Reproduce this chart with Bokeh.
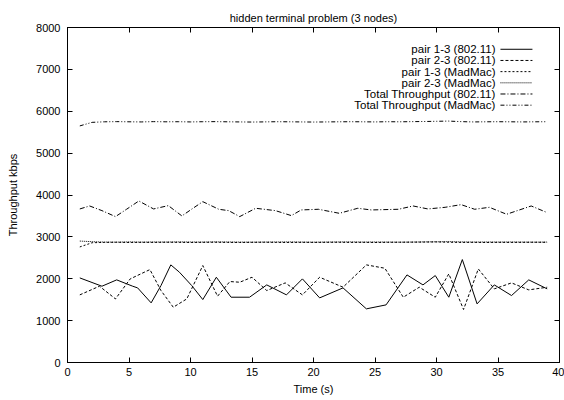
from bokeh.plotting import figure
from bokeh.models import Range1d, LinearAxis, FixedTicker, Title
from bokeh.embed import file_html
from bokeh.resources import INLINE
from bokeh.core.properties import value

FONT = "Liberation Sans"

# ---- data ----
t_pair13_8021 = [1.0, 2.8, 4.0, 5.3, 5.7, 6.8, 7.6, 8.4, 9.1, 10.1, 11.0, 12.1, 13.3,
                 14.8, 16.2, 17.8, 19.1, 20.5, 22.4, 24.3, 25.9, 27.6, 28.9, 29.9,
                 31.0, 32.1, 33.3, 34.7, 36.1, 37.5, 39.0]
pair13_8021 = [2020, 1822, 1973, 1822, 1782, 1424, 1837, 2331, 2156, 1837, 1503, 2036,
               1559, 1559, 1853, 1615, 1997, 1543, 1782, 1281, 1376, 2092, 1853, 2076,
               1559, 2458, 1400, 1853, 1599, 1973, 1758]
t_pair23_8021 = [1.0, 2.6, 3.9, 5.1, 6.7, 7.6, 8.6, 9.7, 11.0, 12.2, 13.2, 14.0, 15.0,
                 16.2, 17.7, 19.1, 20.5, 22.4, 24.3, 25.8, 27.3, 28.6, 29.9, 31.0,
                 32.2, 33.4, 34.7, 36.1, 37.5, 39.0]
pair23_8021 = [1615, 1822, 1519, 1997, 2219, 1718, 1320, 1519, 2315, 1583, 1933, 1917,
               2036, 1718, 1901, 1615, 2036, 1798, 2331, 2251, 1559, 1798, 1559, 2116,
               1265, 2235, 1758, 1901, 1734, 1798]

t_total_8021 = [1, 1.8, 2.8, 3.9, 4.8, 5.8, 7, 8.2, 9.3, 10.2, 11, 12.3, 13.1, 14, 15.3,
                16.9, 18.2, 19, 20.4, 22.1, 23.6, 24.7, 26.9, 28.1, 29.3, 30.7, 32,
                33.1, 34.3, 35.7, 37.7, 39]
total_8021 = [3667, 3738, 3627, 3484, 3659, 3857, 3667, 3746, 3500, 3683, 3841, 3659,
              3627, 3484, 3683, 3627, 3508, 3643, 3659, 3563, 3683, 3643, 3659, 3738,
              3667, 3706, 3770, 3659, 3706, 3540, 3738, 3579]

t_mad = list(range(1, 40))
pair13_mad = [2760, 2860, 2868, 2872, 2866, 2870, 2868, 2872, 2870, 2866, 2870, 2872,
              2868, 2866, 2870, 2872, 2868, 2866, 2870, 2868, 2870, 2872, 2868, 2870,
              2866, 2870, 2872, 2874, 2876, 2880, 2872, 2868, 2870, 2866, 2870, 2868,
              2870, 2872, 2870]
pair23_mad = [2900, 2885, 2876, 2874, 2880, 2875, 2878, 2876, 2880, 2878, 2876, 2880,
              2878, 2876, 2874, 2876, 2878, 2880, 2876, 2874, 2876, 2878, 2880, 2876,
              2878, 2876, 2874, 2876, 2880, 2882, 2886, 2880, 2876, 2878, 2876, 2878,
              2876, 2874, 2876]
total_mad = [5650, 5735, 5748, 5752, 5748, 5745, 5752, 5748, 5750, 5745, 5750, 5752,
             5748, 5745, 5742, 5746, 5750, 5748, 5745, 5742, 5745, 5748, 5750, 5748,
             5745, 5750, 5748, 5752, 5755, 5760, 5765, 5752, 5745, 5748, 5750, 5748,
             5745, 5748, 5750]

x_ticks = [0, 5, 10, 15, 20, 25, 30, 35, 40]
y_ticks = [0, 1000, 2000, 3000, 4000, 5000, 6000, 7000, 8000]

title_text = "hidden terminal problem (3 nodes)"
legend_labels = ["pair 1-3 (802.11)", "pair 2-3 (802.11)", "pair 1-3 (MadMac)",
                 "pair 2-3 (MadMac)", "Total Throughput (802.11)",
                 "Total Throughput (MadMac)"]
dashes = ["solid", "3 2", "2 2", "1 1", "5 2 1 2", "4 2 1 2 1 2"]

series = [(t_pair13_8021, pair13_8021), (t_pair23_8021, pair23_8021),
          (t_mad, pair13_mad), (t_mad, pair23_mad),
          (t_total_8021, total_8021), (t_mad, total_mad)]

p = figure(width=564, height=400, output_backend="svg", toolbar_location=None,
           x_range=Range1d(0, 40), y_range=Range1d(0, 8000),
           min_border_left=67, min_border_right=5, min_border_top=27,
           min_border_bottom=38)
p.grid.visible = False
p.outline_line_color = "black"
p.outline_line_width = 1
p.background_fill_color = "white"
p.border_fill_color = "white"

for ax in [p.xaxis[0], p.yaxis[0]]:
    ax.major_tick_in = 5
    ax.major_tick_out = 0
    ax.minor_tick_line_color = None
    ax.axis_line_color = "black"
    ax.major_tick_line_color = "black"
    ax.major_label_text_font = FONT
    ax.major_label_text_font_size = "11px"
    ax.major_label_text_color = "black"
    ax.axis_label_text_font = FONT
    ax.axis_label_text_font_size = "11px"
    ax.axis_label_text_font_style = "normal"
    ax.axis_label_text_color = "black"

p.xaxis.ticker = FixedTicker(ticks=x_ticks)
p.yaxis.ticker = FixedTicker(ticks=y_ticks)
p.xaxis.axis_label = "Time (s)"
p.yaxis.axis_label = "Throughput kbps"
p.xaxis.major_label_standoff = 5
p.yaxis.major_label_standoff = 7
p.xaxis.axis_label_standoff = 4
p.yaxis.axis_label_standoff = 14

for loc, tk in [("above", x_ticks), ("right", y_ticks)]:
    a = LinearAxis(ticker=FixedTicker(ticks=tk))
    a.major_tick_in = 5
    a.major_tick_out = 0
    a.minor_tick_line_color = None
    a.major_label_text_color = None
    a.major_label_text_font_size = "1px"
    a.major_label_standoff = 0
    a.axis_line_color = "black"
    a.major_tick_line_color = "black"
    p.add_layout(a, loc)

# title added after the mirror axis so it stacks outside it
p.add_layout(Title(text=title_text, align="center", text_font=FONT,
                   text_font_size="11px", text_font_style="normal",
                   text_color="black", standoff=8), "above")

for (xs, ys), d in zip(series, dashes):
    p.line(xs, ys, line_color="black", line_width=1, line_dash=d)

# legend, gnuplot style: right-aligned text, sample to the right
leg_top = 7480
leg_step = 267
leg_y = [leg_top - i * leg_step for i in range(len(legend_labels))]
p.text(x=[34.8] * len(legend_labels), y=leg_y, text=legend_labels,
       text_align="right", text_baseline="middle",
       text_font=value(FONT), text_font_size="11.5px", text_color="black")
for yy, d in zip(leg_y, dashes):
    p.line([35.2, 37.8], [yy, yy], line_color="black", line_width=1, line_dash=d)

open("out.html", "w").write(file_html(p, INLINE))
